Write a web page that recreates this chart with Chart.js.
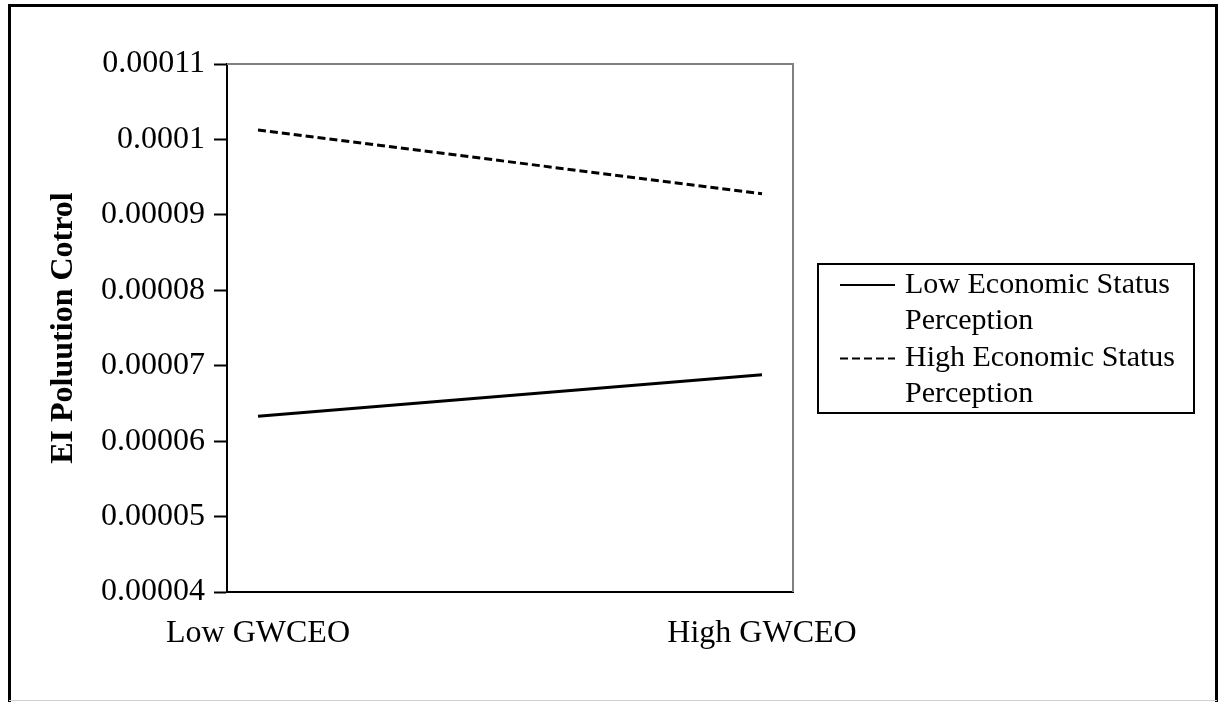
<!DOCTYPE html>
<html>
<head>
<meta charset="utf-8">
<script src="https://cdn.jsdelivr.net/npm/chart.js@4.4.1/dist/chart.umd.min.js"></script>
<style>
  html, body { margin: 0; padding: 0; background: #fff; }
  canvas { display: block; }
</style>
</head>
<body>
<canvas id="chart" width="1223" height="702"></canvas>
<script>
// chart values
const categories = ['Low GWCEO', 'High GWCEO'];
const lowStatus = [0.0000633, 0.0000688];
const highStatus = [0.00010125, 0.0000928];
const seriesNames = ['Low Economic Status\nPerception', 'High Economic Status\nPerception'];
const yTicks = [0.00004, 0.00005, 0.00006, 0.00007, 0.00008, 0.00009, 0.0001, 0.00011];

const SERIF = "'Liberation Serif', 'Times New Roman', serif";

function toPoints(arr) {
    return arr.map((v, i) => ({ x: i, y: v }));
}

// page frame, gray top/right edges of the plot, and the boxed legend
const framePlugin = {
    id: 'frame',
    beforeDraw(chart) {
        const ctx = chart.ctx;
        ctx.save();
        ctx.fillStyle = '#fff';
        ctx.fillRect(0, 0, chart.width, chart.height);
        ctx.strokeStyle = '#000';
        ctx.lineWidth = 3;
        ctx.beginPath();
        ctx.moveTo(9.5, 702);
        ctx.lineTo(9.5, 5.5);
        ctx.lineTo(1216.5, 5.5);
        ctx.lineTo(1216.5, 702);
        ctx.stroke();
        ctx.strokeStyle = '#d0d0d0';
        ctx.lineWidth = 1;
        ctx.beginPath();
        ctx.moveTo(9, 700.5);
        ctx.lineTo(1217, 700.5);
        ctx.stroke();
        ctx.restore();
    },
    afterDatasetsDraw(chart) {
        const ctx = chart.ctx;
        const a = chart.chartArea;
        ctx.save();
        ctx.strokeStyle = '#808080';
        ctx.lineWidth = 2;
        ctx.beginPath();
        ctx.moveTo(a.left, a.top);
        ctx.lineTo(a.right, a.top);
        ctx.lineTo(a.right, a.bottom);
        ctx.stroke();

        // legend box
        ctx.strokeStyle = '#000';
        ctx.lineWidth = 2;
        ctx.strokeRect(818, 264, 376, 149);
        ctx.font = '30px ' + SERIF;
        ctx.fillStyle = '#000';
        ctx.textBaseline = 'middle';
        ctx.textAlign = 'left';
        chart.data.datasets.forEach((ds, i) => {
            const y0 = 285 + i * 73.5;
            ctx.lineWidth = 2;
            ctx.setLineDash(ds.borderDash || []);
            ctx.beginPath();
            ctx.moveTo(840, y0);
            ctx.lineTo(895, y0);
            ctx.stroke();
            ctx.setLineDash([]);
            ds.label.split('\n').forEach((t, j) => {
                ctx.fillText(t, 905, y0 + j * 36);
            });
        });
        ctx.restore();
    }
};

new Chart(document.getElementById('chart'), {
    type: 'line',
    data: {
        datasets: [
            {
                label: seriesNames[0],
                data: toPoints(lowStatus),
                borderColor: '#000',
                borderWidth: 3,
                pointRadius: 0,
                tension: 0
            },
            {
                label: seriesNames[1],
                data: toPoints(highStatus),
                borderColor: '#000',
                borderWidth: 3,
                borderDash: [8, 4],
                pointRadius: 0,
                tension: 0
            }
        ]
    },
    options: {
        responsive: false,
        animation: false,
        devicePixelRatio: 1,
        layout: { padding: { left: 0, right: 430, top: 64, bottom: 0 } },
        plugins: {
            legend: { display: false },
            tooltip: { enabled: false }
        },
        scales: {
            x: {
                type: 'linear',
                min: -31 / 504,
                max: 1 + 31 / 504,
                afterBuildTicks: (scale) => {
                    scale.ticks = categories.map((c, i) => ({ value: i }));
                },
                afterFit: (scale) => { scale.height = 110; },
                grid: { display: false, drawTicks: false },
                border: { display: true, color: '#000', width: 2 },
                ticks: {
                    padding: 22,
                    color: '#000',
                    font: { family: SERIF, size: 32 },
                    maxRotation: 0,
                    autoSkip: false,
                    callback: (v) => categories[v]
                }
            },
            y: {
                min: yTicks[0],
                max: yTicks[yTicks.length - 1],
                afterBuildTicks: (scale) => {
                    scale.ticks = yTicks.map(v => ({ value: v }));
                },
                afterFit: (scale) => { scale.width = 227; },
                grid: {
                    drawOnChartArea: false,
                    drawTicks: true,
                    tickLength: 13,
                    tickWidth: 2,
                    tickColor: '#000'
                },
                border: { display: true, color: '#000', width: 2 },
                ticks: {
                    padding: 9,
                    color: '#000',
                    font: { family: SERIF, size: 32 },
                    callback: (v) => parseFloat(v.toFixed(5)).toString()
                },
                title: {
                    display: true,
                    text: 'EI Poluution Cotrol',
                    color: '#000',
                    font: { family: SERIF, size: 32, weight: 'bold' },
                    padding: { top: 45, bottom: 0 }
                }
            }
        }
    },
    plugins: [framePlugin]
});
</script>
</body>
</html>
